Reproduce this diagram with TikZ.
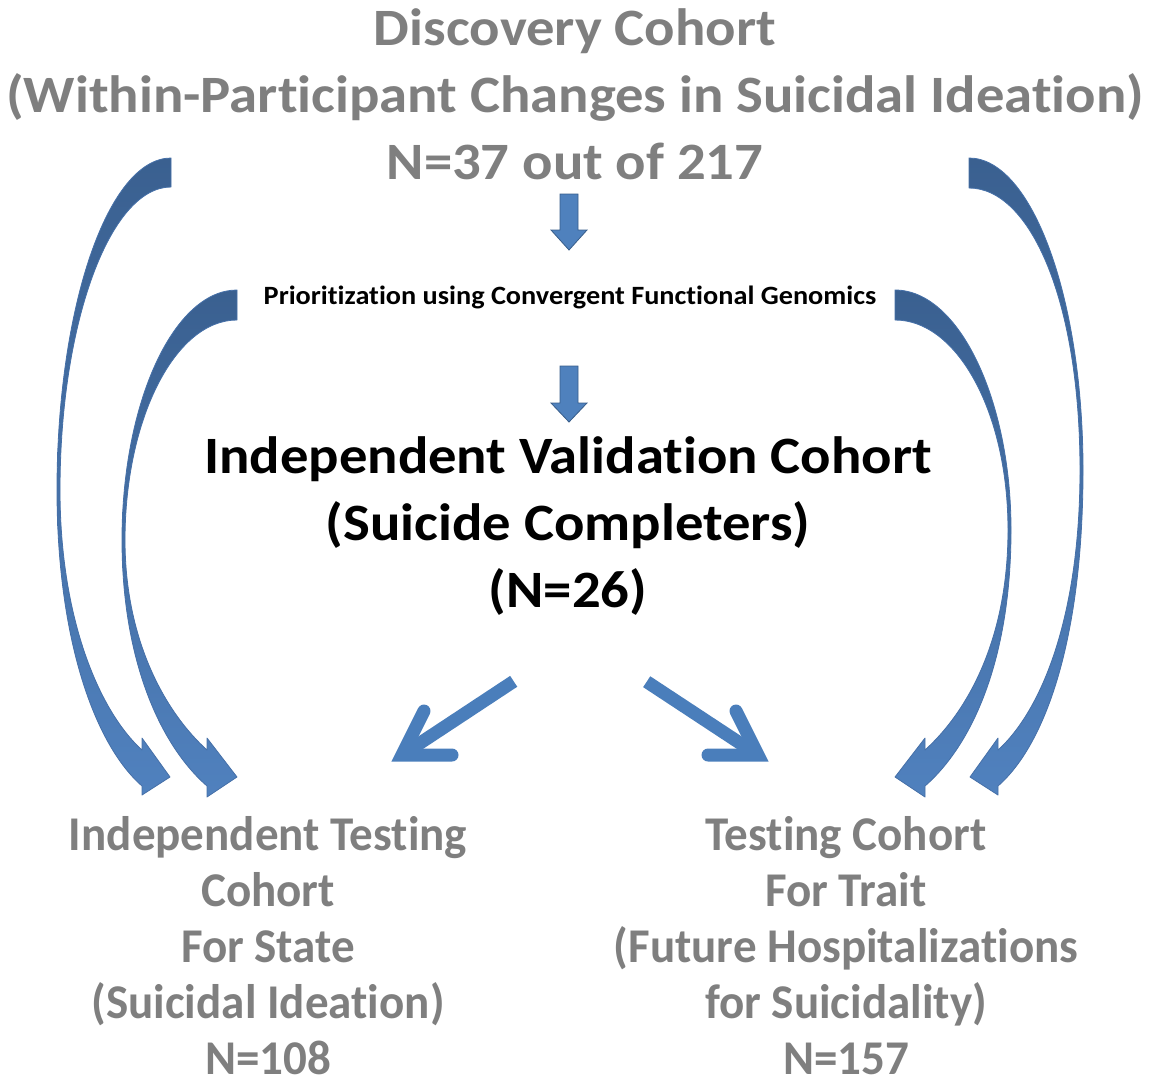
\documentclass[tikz,border=0pt]{standalone}
\usepackage{fontspec}
\setmainfont{Carlito}[Ligatures=NoCommon]
\newfontfamily\calwide{Carlito}[FakeStretch=1.08,Ligatures=NoCommon]
\newfontfamily\calprio{Carlito}[FakeStretch=1.07,Ligatures=NoCommon]
\newfontfamily\callow{Carlito}[FakeStretch=0.97,Ligatures=NoCommon]
\definecolor{txtgray}{RGB}{127,127,127}
\definecolor{arrtop}{RGB}{58,96,144}
\definecolor{arrbot}{RGB}{80,129,190}
\definecolor{arredge}{RGB}{70,112,168}
\definecolor{arrfill}{RGB}{79,129,189}
\definecolor{arrline}{RGB}{56,93,138}
\definecolor{diagblue}{RGB}{74,126,187}
\begin{document}
\begin{tikzpicture}[x=1pt,y=-1pt,
  bigtxt/.style={inner sep=0pt,align=center,font=\calwide\bfseries\fontsize{52.5}{67}\selectfont},
  lowtxt/.style={inner sep=0pt,align=center,text=txtgray,font=\callow\bfseries\fontsize{48.5}{56}\selectfont},
  curvearrow/.style={top color=arrtop,bottom color=arrbot,draw=arredge,line width=0.8pt,line join=round},
  downarrow/.style={fill=arrfill,draw=arrline,line width=0.8pt},
  diagshaft/.style={draw=diagblue,line width=13pt,line cap=butt},
  diaghead/.style={draw=diagblue,line width=13pt,line cap=round,line join=miter}]
\useasboundingbox (0,0) rectangle (1153,1080);

% texts
\node[bigtxt,text=txtgray] (disc) at (575,94) {Discovery Cohort\\(Within-Participant Changes in Suicidal Ideation)\\N=37 out of 217};
\node[inner sep=0pt,font=\calprio\bfseries\fontsize{26.4}{30}\selectfont] (prio) at (570,297) {Prioritization using Convergent Functional Genomics};
\node[bigtxt] (valid) at (568,526) {Independent Validation Cohort\\(Suicide Completers)\\(N=26)};
\node[lowtxt] (state) at (268,946) {Independent Testing\\Cohort\\For State\\(Suicidal Ideation)\\N=108};
\node[lowtxt] (trait) at (846,946) {Testing Cohort\\For Trait\\(Future Hospitalizations\\for Suicidality)\\N=157};

% straight down arrows
\draw[downarrow] (560,194) -- (578,194) -- (578,230) -- (587,230) -- (569,250) -- (551,230) -- (560,230) -- cycle;
\draw[downarrow] (560,366) -- (578,366) -- (578,403) -- (587,403) -- (569,422) -- (551,403) -- (560,403) -- cycle;

% diagonal arrows
\coordinate (lstart) at (513.7,681.3);
\coordinate (lv) at (402,755);
\draw[diagshaft] (lstart) -- (lv);
\draw[diaghead] (424,711) -- (lv) -- (452,755);
\coordinate (rstart) at (646.7,681.7);
\coordinate (rv) at (758,755);
\draw[diagshaft] (rstart) -- (rv);
\draw[diaghead] (736,711) -- (rv) -- (708,755);

% curved arrows left
\path[curvearrow] (171,158) .. controls (108,158) and (57,307) .. (57,490)
  .. controls (57,640) and (95,745) .. (142,786) -- (142,795) -- (170,777) -- (142,738) -- (142,750)
  .. controls (100,712) and (60,620) .. (60,490)
  .. controls (60,323) and (110,187) .. (171,187) -- cycle;
\path[curvearrow] (237,290) .. controls (174,290) and (122,402) .. (122,540)
  .. controls (122,660) and (160,745) .. (207,786) -- (207,797) -- (237,777) -- (207,738) -- (207,750)
  .. controls (165,712) and (125,640) .. (125,540)
  .. controls (125,419) and (175,320) .. (237,320) -- cycle;
% curved arrows right
\path[curvearrow] (969,158) .. controls (1032,158) and (1083,298) .. (1083,470)
  .. controls (1083,640) and (1045,745) .. (998,786) -- (998,795) -- (970,777) -- (998,738) -- (998,750)
  .. controls (1040,712) and (1080,620) .. (1080,470)
  .. controls (1080,300) and (1030,188) .. (969,188) -- cycle;
\path[curvearrow] (895,290) .. controls (959,290) and (1011,400) .. (1011,530)
  .. controls (1011,660) and (972,745) .. (925,786) -- (925,797) -- (895,777) -- (925,738) -- (925,750)
  .. controls (967,712) and (1008,640) .. (1008,530)
  .. controls (1008,412) and (957,320) .. (895,320) -- cycle;
\end{tikzpicture}
\end{document}
